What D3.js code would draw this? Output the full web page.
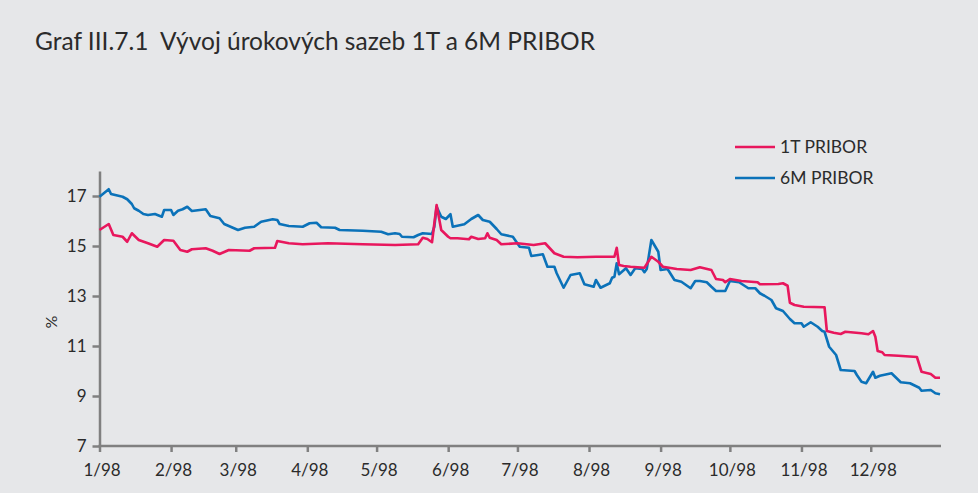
<!DOCTYPE html>
<html>
<head>
<meta charset="utf-8">
<script src="https://cdn.jsdelivr.net/npm/d3@7"></script>
<style>
  body { margin: 0; padding: 0; background: #e6e7e9; }
  svg { display: block; font-family: 'Lato', 'Open Sans', sans-serif; }
  .axis path, .axis line { stroke: #808080; stroke-width: 2.5; }
  .axis text { fill: #2b2b2b; font-size: 17px; font-family: 'Lato', sans-serif; }
</style>
</head>
<body>
<div id="main"></div>
<script>
// 1T PRIBOR
const dates1T = ['1998-01-01','1998-01-05','1998-01-07','1998-01-11','1998-01-13','1998-01-15','1998-01-18','1998-01-22','1998-01-26','1998-01-29',
  '1998-02-02','1998-02-05','1998-02-08','1998-02-10','1998-02-16','1998-02-19','1998-02-22','1998-02-26','1998-03-07','1998-03-09',
  '1998-03-18','1998-03-19','1998-03-24','1998-03-30','1998-04-10','1998-04-25','1998-05-09','1998-05-19','1998-05-21','1998-05-23',
  '1998-05-25','1998-05-27','1998-05-29','1998-06-01','1998-06-02','1998-06-05','1998-06-10','1998-06-11','1998-06-14','1998-06-17',
  '1998-06-18','1998-06-19','1998-06-22','1998-06-24','1998-07-01','1998-07-08','1998-07-13','1998-07-17','1998-07-21','1998-07-27',
  '1998-08-04','1998-08-12','1998-08-13','1998-08-14','1998-08-16','1998-08-19','1998-08-25','1998-08-28','1998-08-31','1998-09-02',
  '1998-09-08','1998-09-14','1998-09-18','1998-09-23','1998-09-25','1998-09-28','1998-09-29','1998-10-01','1998-10-06','1998-10-13',
  '1998-10-14','1998-10-22','1998-10-24','1998-10-26','1998-10-27','1998-10-29','1998-11-02','1998-11-11','1998-11-12','1998-11-15',
  '1998-11-18','1998-11-20','1998-11-27','1998-11-30','1998-12-02','1998-12-03','1998-12-04','1998-12-06','1998-12-07','1998-12-13',
  '1998-12-21','1998-12-23','1998-12-27','1998-12-29','1998-12-31'];
const values1T = [15.64,15.88,15.44,15.37,15.17,15.51,15.24,15.11,14.97,15.24,
  15.21,14.84,14.77,14.87,14.91,14.81,14.68,14.84,14.81,14.91,
  14.93,15.20,15.11,15.07,15.11,15.07,15.04,15.07,15.33,15.28,
  15.15,16.64,15.64,15.37,15.31,15.31,15.27,15.37,15.28,15.31,
  15.51,15.33,15.24,15.07,15.11,15.04,15.11,14.71,14.57,14.55,
  14.57,14.57,14.93,14.24,14.20,14.17,14.13,14.57,14.37,14.17,
  14.08,14.04,14.15,14.04,13.68,13.64,13.55,13.68,13.60,13.55,
  13.47,13.48,13.51,13.41,12.73,12.64,12.57,12.55,11.60,11.53,
  11.48,11.57,11.51,11.47,11.60,11.37,10.80,10.75,10.64,10.61,
  10.56,9.97,9.88,9.73,9.73];

// 6M PRIBOR
const dates6M = ['1998-01-01','1998-01-05','1998-01-06','1998-01-11','1998-01-13','1998-01-15','1998-01-16','1998-01-18','1998-01-20','1998-01-22',
  '1998-01-25','1998-01-28','1998-01-29','1998-02-01','1998-02-02','1998-02-04','1998-02-06','1998-02-08','1998-02-10','1998-02-16',
  '1998-02-18','1998-02-22','1998-02-24','1998-03-02','1998-03-05','1998-03-09','1998-03-12','1998-03-17','1998-03-19','1998-03-20',
  '1998-03-24','1998-03-30','1998-04-02','1998-04-05','1998-04-07','1998-04-13','1998-04-15','1998-04-25','1998-05-03','1998-05-06',
  '1998-05-09','1998-05-11','1998-05-12','1998-05-17','1998-05-19','1998-05-21','1998-05-25','1998-05-26','1998-05-27','1998-05-29',
  '1998-05-31','1998-06-02','1998-06-03','1998-06-05','1998-06-08','1998-06-11','1998-06-14','1998-06-16','1998-06-19','1998-06-22',
  '1998-06-24','1998-06-29','1998-07-02','1998-07-06','1998-07-07','1998-07-10','1998-07-12','1998-07-14','1998-07-17','1998-07-18',
  '1998-07-21','1998-07-24','1998-07-28','1998-07-30','1998-08-03','1998-08-04','1998-08-06','1998-08-10','1998-08-11','1998-08-12',
  '1998-08-13','1998-08-14','1998-08-17','1998-08-19','1998-08-21','1998-08-24','1998-08-25','1998-08-26','1998-08-28','1998-08-31',
  '1998-09-01','1998-09-04','1998-09-07','1998-09-10','1998-09-14','1998-09-16','1998-09-18','1998-09-21','1998-09-23','1998-09-25',
  '1998-09-29','1998-10-01','1998-10-05','1998-10-09','1998-10-12','1998-10-14','1998-10-16','1998-10-19','1998-10-21','1998-10-24',
  '1998-10-27','1998-10-29','1998-11-01','1998-11-02','1998-11-05','1998-11-08','1998-11-10','1998-11-11','1998-11-13','1998-11-16',
  '1998-11-18','1998-11-24','1998-11-25','1998-11-27','1998-11-29','1998-12-02','1998-12-03','1998-12-05','1998-12-10','1998-12-14',
  '1998-12-18','1998-12-22','1998-12-23','1998-12-27','1998-12-29','1998-12-31'];
const values6M = [16.97,17.27,17.08,16.97,16.87,16.68,16.51,16.41,16.28,16.24,
  16.28,16.17,16.44,16.44,16.24,16.41,16.47,16.57,16.40,16.47,
  16.20,16.11,15.88,15.64,15.73,15.77,15.97,16.07,16.04,15.88,
  15.80,15.77,15.91,15.93,15.75,15.73,15.64,15.61,15.57,15.47,
  15.51,15.48,15.37,15.35,15.44,15.51,15.48,15.77,16.57,16.17,
  16.08,16.27,15.77,15.81,15.87,16.08,16.24,16.04,15.97,15.68,
  15.47,15.37,14.97,14.93,14.60,14.64,14.67,14.17,14.17,13.91,
  13.33,13.84,13.91,13.47,13.37,13.64,13.33,13.51,13.73,13.77,
  14.31,13.87,14.11,13.84,14.11,14.08,13.95,14.08,15.24,14.77,
  14.04,14.08,13.64,13.57,13.31,13.60,13.60,13.55,13.37,13.20,
  13.20,13.60,13.55,13.31,13.31,13.11,13.01,12.84,12.51,12.40,
  12.08,11.91,11.91,11.77,11.95,11.77,11.60,11.57,10.97,10.64,
  10.04,10.00,9.84,9.57,9.51,9.97,9.73,9.81,9.91,9.55,
  9.51,9.33,9.21,9.24,9.11,9.07];

const monthTicks = ['1998-01-01','1998-02-01','1998-03-01','1998-04-01','1998-05-01','1998-06-01',
  '1998-07-01','1998-08-01','1998-09-01','1998-10-01','1998-11-01','1998-12-01'];
const yTicks = [7, 9, 11, 13, 15, 17];
const seriesNames = ['1T PRIBOR', '6M PRIBOR'];
const seriesColours = ['#e8175d', '#0b72b9'];

const WIDTH = 978;
const HEIGHT = 493;
const parseDate = d3.timeParse('%Y-%m-%d');

const svg = d3.select('#main').append('svg').attr('width', WIDTH).attr('height', HEIGHT);

svg.append('text')
    .attr('x', 35).attr('y', 50)
    .attr('fill', '#2b2b2b')
    .style('font-size', '24.5px')
    .style('white-space', 'pre')
    .text('Graf III.7.1  Vývoj úrokových sazeb 1T a 6M PRIBOR');

const scaleX = d3.scaleTime()
    .domain([parseDate('1998-01-01'), parseDate('1998-12-31')])
    .range([99.5, 940]);
const scaleY = d3.scaleLinear().domain([7, 18]).range([446, 171]);

const axisX = d3.axisBottom(scaleX)
    .tickValues(monthTicks.map(parseDate))
    .tickFormat(d3.timeFormat('%-m/%y'))
    .tickSize(6).tickSizeOuter(0).tickPadding(12);
const gx = svg.append('g').attr('class', 'axis').attr('transform', 'translate(0,446)').call(axisX);
gx.select('.domain').attr('d', `M${scaleX.range()[0] - 1},0H${scaleX.range()[1] + 1}`);
gx.selectAll('text').attr('dx', 2);

const axisY = d3.axisLeft(scaleY).tickValues(yTicks).tickSize(7).tickSizeOuter(0).tickPadding(6);
svg.append('g').attr('class', 'axis').attr('transform', 'translate(99.5,0)').call(axisY);

svg.append('text')
    .attr('transform', 'translate(57,322) rotate(-90)')
    .attr('text-anchor', 'middle')
    .attr('fill', '#2b2b2b')
    .style('font-size', '16px')
    .text('%');

const line = d3.line()
    .x((d) => scaleX(d.date))
    .y((d) => scaleY(d.value));

const seriesData = [
    dates1T.map((d, i) => ({date: parseDate(d), value: values1T[i]})),
    dates6M.map((d, i) => ({date: parseDate(d), value: values6M[i]}))
];

// 6M drawn first, 1T on top
[1, 0].forEach((k) => {
    svg.append('path')
        .datum(seriesData[k])
        .attr('fill', 'none')
        .attr('stroke', seriesColours[k])
        .attr('stroke-width', 2.6)
        .attr('stroke-linejoin', 'round')
        .attr('d', line);
});

const legend = svg.append('g').attr('transform', 'translate(735,147)');
seriesNames.forEach((name, i) => {
    const row = legend.append('g').attr('transform', `translate(0,${i * 31})`);
    row.append('line').attr('x1', 0).attr('x2', 40).attr('stroke', seriesColours[i]).attr('stroke-width', 2.6);
    row.append('text').attr('x', 45).attr('y', 6).attr('fill', '#2b2b2b').style('font-size', '17.5px').text(name);
});
</script>
</body>
</html>
